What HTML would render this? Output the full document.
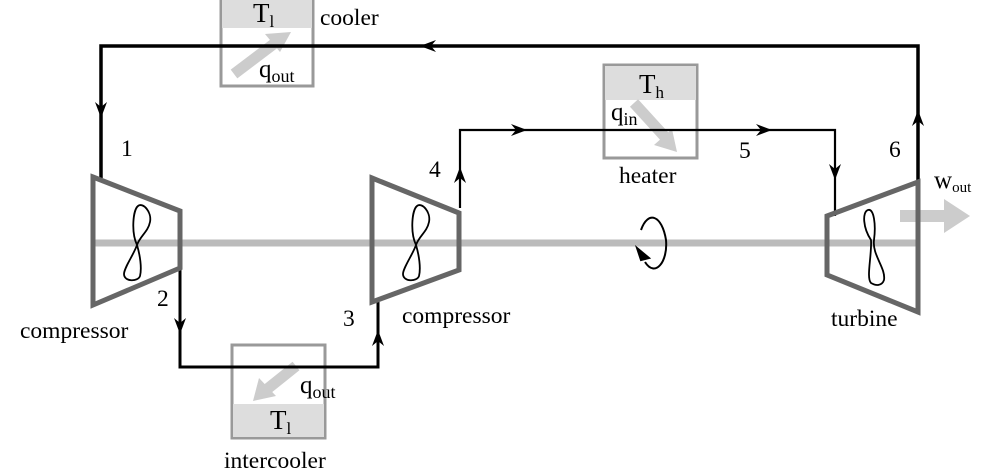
<!DOCTYPE html>
<html><head><meta charset="utf-8"><style>body{margin:0;background:#fff}svg{display:block}text{font-family:"Liberation Serif",serif;fill:#000}</style></head><body>
<svg width="985" height="474" viewBox="0 0 985 474" xmlns="http://www.w3.org/2000/svg" font-size="23.5">
<rect x="221" y="-2" width="92" height="88" fill="#fff" stroke="#999" stroke-width="3"/>
<rect x="222" y="0" width="90" height="28" fill="#ddd"/>
<rect x="604" y="65" width="93" height="93" fill="#fff" stroke="#999" stroke-width="3"/>
<rect x="605" y="66" width="91" height="34" fill="#ddd"/>
<rect x="232" y="345" width="93" height="93" fill="#fff" stroke="#999" stroke-width="3"/>
<rect x="233" y="404" width="91" height="33" fill="#ddd"/>
<g stroke="#ccc" stroke-width="11" fill="#ccc">
<line x1="234" y1="74" x2="275" y2="43"/>
<line x1="634" y1="103" x2="665" y2="137"/>
<line x1="296" y1="366" x2="266" y2="390"/>
<line x1="900" y1="216" x2="945" y2="216" stroke-width="12"/>
</g>
<polygon points="291,32 265,34 280,52" fill="#ccc"/>
<polygon points="677,152 654,145 672,129" fill="#ccc"/>
<polygon points="253,401 259,378 276,396" fill="#ccc"/>
<polygon points="970,216 944,199 944,233" fill="#ccc"/>
<line x1="92" y1="243" x2="920" y2="243" stroke="#bbb" stroke-width="7"/>
<g fill="none" stroke="#000">
<path d="M101,178 V46 H918 V182" stroke-width="3.5"/>
<path d="M180,268 V367 H378 V302" stroke-width="3"/>
<path d="M460,208 V130 H835 V216" stroke-width="2.2"/>
</g>
<g fill="#000">
<path d="M101,118 l-6,-16 l6,5 l6,-5z"/>
<path d="M918,110 l-6,16 l6,-5 l6,5z"/>
<path d="M420,46 l16,-6 l-5,6 l5,6z"/>
<path d="M180,334 l-6,-16 l6,5 l6,-5z"/>
<path d="M378,330 l-6,16 l6,-5 l6,5z"/>
<path d="M460,167 l-6,16 l6,-5 l6,5z"/>
<path d="M527,130 l-16,-6 l5,6 l-5,6z"/>
<path d="M772,130 l-16,-6 l5,6 l-5,6z"/>
<path d="M835,180 l-6,-16 l6,5 l6,-5z"/>
</g>
<g fill="none" stroke="#666" stroke-width="5">
<polygon points="93,177 180,211 180,268 93,305"/>
<polygon points="372,178 459,213 459,270 372,302"/>
<polygon points="827,216 918,182 918,312 827,275"/>
</g>
<g fill="none" stroke="#000" stroke-width="1.8">
<path d="M137,245 C131,232 133,210 138,206 C143,202 152,212 150,222 C148,232 140,236 137,245 C134,254 124,268 124,274 C124,282 138,282 140,276 C142,268 140,255 137,245Z"/>
<path d="M416,245 C410,232 412,210 417,206 C422,202 431,212 429,222 C427,232 419,236 416,245 C413,254 403,268 403,274 C403,282 417,282 419,276 C421,268 419,255 416,245Z"/>
<path d="M871,240 C863,228 862,212 868,210 C874,208 876,225 874,240 C872,255 886,268 884,280 C882,286 876,286 871,283 C866,278 872,255 871,240Z"/>
</g>
<path d="M641,230 C648,210 662,215 666,240 C668,262 655,278 645,262" fill="none" stroke="#000" stroke-width="2"/>
<path d="M637,248 l12,10 l-8,2z" fill="#000" stroke="#000" stroke-width="2"/>
<text x="253" y="22" font-size="27">T<tspan font-size="17" dy="5">l</tspan></text>
<text x="320" y="25">cooler</text>
<text x="259" y="77" font-size="25">q<tspan font-size="18" dy="5">out</tspan></text>
<text x="639" y="93" font-size="27">T<tspan font-size="17" dy="5">h</tspan></text>
<text x="611" y="120" font-size="25">q<tspan font-size="18" dy="5">in</tspan></text>
<text x="619" y="183">heater</text>
<text x="300" y="393" font-size="25">q<tspan font-size="18" dy="5">out</tspan></text>
<text x="270" y="429" font-size="27">T<tspan font-size="17" dy="5">l</tspan></text>
<text x="224" y="468">intercooler</text>
<text x="121" y="156">1</text>
<text x="157" y="306">2</text>
<text x="343" y="326">3</text>
<text x="429" y="177">4</text>
<text x="739" y="158">5</text>
<text x="889" y="157">6</text>
<text x="20" y="338">compressor</text>
<text x="402" y="323">compressor</text>
<text x="831" y="326">turbine</text>
<text x="934" y="188" font-size="25">w<tspan font-size="15" dy="4">out</tspan></text>
</svg>
</body></html>
